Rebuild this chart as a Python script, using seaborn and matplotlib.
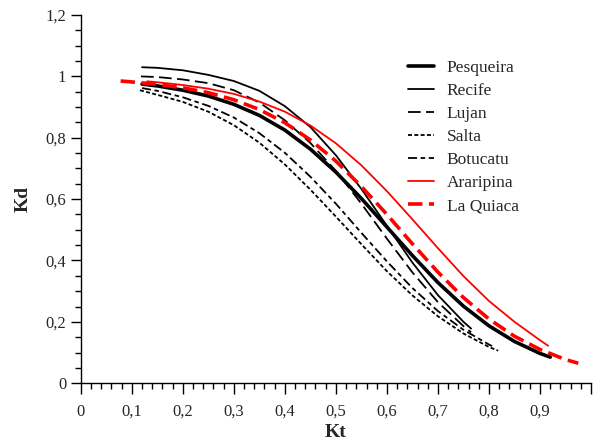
import matplotlib
matplotlib.use("Agg")
import matplotlib.pyplot as plt
from matplotlib.ticker import MultipleLocator, FixedLocator
import seaborn as sns
import pandas as pd

# values (Kt, Kd)
pesqueira_kt = [0.12, 0.15, 0.20, 0.25, 0.30, 0.35, 0.40, 0.45, 0.50, 0.55,
                0.60, 0.65, 0.70, 0.75, 0.80, 0.85, 0.90, 0.92]
pesqueira_kd = [0.975, 0.969, 0.955, 0.936, 0.909, 0.873, 0.825, 0.763, 0.688, 0.602,
                0.509, 0.416, 0.328, 0.251, 0.187, 0.136, 0.097, 0.085]

recife_kt = [0.12, 0.15, 0.20, 0.25, 0.30, 0.35, 0.40, 0.45, 0.50, 0.55,
             0.60, 0.65, 0.70, 0.75, 0.765]
recife_kd = [1.030, 1.028, 1.020, 1.005, 0.985, 0.953, 0.903, 0.835, 0.743, 0.633,
             0.513, 0.393, 0.287, 0.200, 0.178]

lujan_kt = [0.118, 0.15, 0.20, 0.25, 0.30, 0.35, 0.40, 0.45, 0.50, 0.55,
            0.60, 0.65, 0.70, 0.75, 0.765]
lujan_kd = [1.000, 0.998, 0.990, 0.978, 0.955, 0.915, 0.857, 0.783, 0.692, 0.585,
            0.471, 0.361, 0.264, 0.186, 0.166]

salta_kt = [0.116, 0.15, 0.20, 0.25, 0.30, 0.35, 0.40, 0.45, 0.50, 0.55,
            0.60, 0.65, 0.70, 0.75, 0.80, 0.818]
salta_kd = [0.955, 0.940, 0.917, 0.885, 0.841, 0.784, 0.713, 0.631, 0.543, 0.453,
            0.365, 0.286, 0.218, 0.162, 0.118, 0.106]

botucatu_kt = [0.12, 0.15, 0.20, 0.25, 0.30, 0.35, 0.40, 0.45, 0.50, 0.55,
               0.60, 0.65, 0.70, 0.75, 0.80, 0.806]
botucatu_kd = [0.962, 0.953, 0.932, 0.904, 0.866, 0.815, 0.751, 0.673, 0.585, 0.490,
               0.397, 0.310, 0.235, 0.174, 0.126, 0.121]

araripina_kt = [0.13, 0.15, 0.20, 0.25, 0.30, 0.35, 0.40, 0.45, 0.50, 0.55,
                0.60, 0.65, 0.70, 0.75, 0.80, 0.85, 0.90, 0.916]
araripina_kd = [0.984, 0.981, 0.972, 0.960, 0.943, 0.918, 0.885, 0.840, 0.782, 0.710,
                0.626, 0.534, 0.440, 0.349, 0.268, 0.200, 0.140, 0.122]

laquiaca_kt = [0.078, 0.10, 0.15, 0.20, 0.25, 0.30, 0.35, 0.40, 0.45, 0.50,
               0.55, 0.60, 0.65, 0.70, 0.75, 0.80, 0.85, 0.90, 0.95, 0.975]
laquiaca_kd = [0.985, 0.982, 0.974, 0.963, 0.947, 0.924, 0.892, 0.849, 0.793, 0.724,
               0.641, 0.550, 0.454, 0.362, 0.279, 0.209, 0.153, 0.110, 0.077, 0.065]

x_ticks = [0, 0.1, 0.2, 0.3, 0.4, 0.5, 0.6, 0.7, 0.8, 0.9, 1.0]
x_labels = ["0", "0,1", "0,2", "0,3", "0,4", "0,5", "0,6", "0,7", "0,8", "0,9", ""]
y_ticks = [0, 0.2, 0.4, 0.6, 0.8, 1.0, 1.2]
y_labels = ["0", "0,2", "0,4", "0,6", "0,8", "1", "1,2"]

series = [
    ("Pesqueira", pesqueira_kt, pesqueira_kd, "black", 2.6, "-"),
    ("Recife", recife_kt, recife_kd, "black", 1.3, "-"),
    ("Lujan", lujan_kt, lujan_kd, "black", 1.3, (0, (7, 3))),
    ("Salta", salta_kt, salta_kd, "black", 1.3, (0, (2.2, 1.3))),
    ("Botucatu", botucatu_kt, botucatu_kd, "black", 1.3, (0, (5, 2, 2.5, 2))),
    ("Araripina", araripina_kt, araripina_kd, "red", 1.3, "-"),
    ("La Quiaca", laquiaca_kt, laquiaca_kd, "red", 2.6, (0, (4, 1.8))),
]

sns.set_style("ticks")
plt.rcParams["font.family"] = ["Liberation Serif", "DejaVu Serif"]

fig = plt.figure(figsize=(5.94, 4.43), dpi=100)
ax = fig.add_axes([0.136, 0.135, 0.859, 0.831])

for name, kt, kd, color, lw, ls in series:
    df = pd.DataFrame({"Kt": kt, "Kd": kd})
    sns.lineplot(data=df, x="Kt", y="Kd", ax=ax, color=color, linewidth=lw,
                 linestyle=ls, label=name)

ax.set_xlim(0, 1.0)
ax.set_ylim(0, 1.2)
ax.xaxis.set_major_locator(FixedLocator(x_ticks))
ax.set_xticklabels(x_labels)
ax.yaxis.set_major_locator(FixedLocator(y_ticks))
ax.set_yticklabels(y_labels)
ax.xaxis.set_minor_locator(MultipleLocator(0.02))
ax.yaxis.set_minor_locator(MultipleLocator(0.05))
ax.tick_params(which="major", direction="out", length=7, width=1, labelsize=12, color="black")
ax.tick_params(axis="x", which="major", length=8, pad=7)
ax.tick_params(which="minor", direction="out", length=4, width=1, color="black")
sns.despine(ax=ax)
for sp in ["left", "bottom"]:
    ax.spines[sp].set_color("black")
    ax.spines[sp].set_linewidth(1)

ax.set_xlabel("Kt", fontsize=14, fontweight="bold", labelpad=3)
ax.set_ylabel("Kd", fontsize=14, fontweight="bold", labelpad=10)

ax.legend(loc="upper left", bbox_to_anchor=(0.673, 0.885), bbox_transform=fig.transFigure,
          frameon=False, fontsize=12.5, handlelength=1.5, handletextpad=0.7,
          labelspacing=0.4, borderpad=0)

fig.savefig("out.png", dpi=100)
